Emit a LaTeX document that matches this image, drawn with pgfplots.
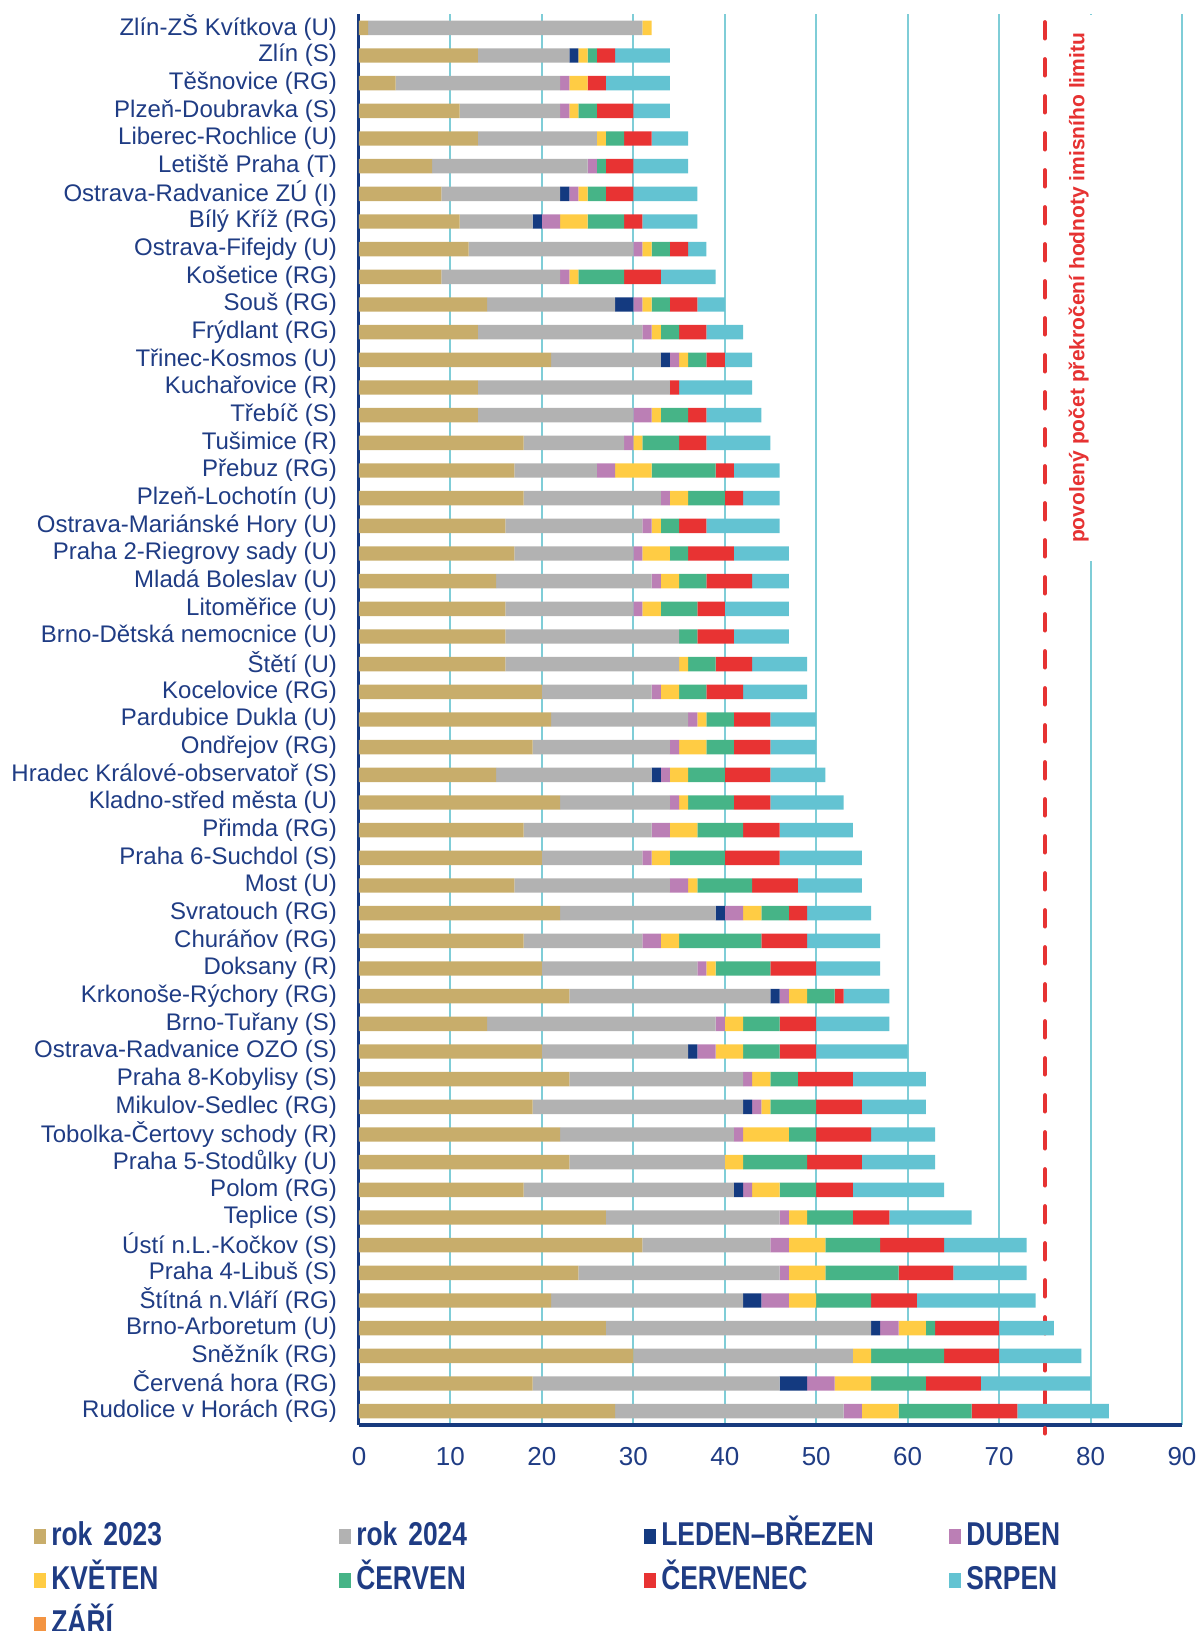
\documentclass[border=0pt]{standalone}
\usepackage{fontspec}
\setmainfont{Liberation Sans}
\newfontfamily\legfont[FakeStretch=0.8]{Liberation Sans}
\usepackage{pgfplots}
\usepackage{pgfplotstable}
\pgfplotsset{compat=1.18}

\definecolor{navy}{HTML}{1F3C84}
\definecolor{axisblue}{HTML}{173A7E}
\definecolor{gridc}{HTML}{7FCDD7}
\definecolor{c23}{HTML}{C8AD6B}
\definecolor{c24}{HTML}{B2B2B2}
\definecolor{clb}{HTML}{143A80}
\definecolor{cdu}{HTML}{BB7FB5}
\definecolor{ckv}{HTML}{FFCC44}
\definecolor{ccv}{HTML}{46B487}
\definecolor{ccc}{HTML}{E83333}
\definecolor{csr}{HTML}{63C3D2}
\definecolor{cza}{HTML}{F39442}
\definecolor{limred}{HTML}{E63232}

% idx: 0 = top row
\pgfplotstableread{
idx a  b  lb du kv cv cc sr za
0   1  30 0  0  1  0  0  0  0
1   13 10 1  0  1  1  2  6  0
2   4  18 0  1  2  0  2  7  0
3   11 11 0  1  1  2  4  4  0
4   13 13 0  0  1  2  3  4  0
5   8  17 0  1  0  1  3  6  0
6   9  13 1  1  1  2  3  7  0
7   11 8  1  2  3  4  2  6  0
8   12 18 0  1  1  2  2  2  0
9   9  13 0  1  1  5  4  6  0
10  14 14 2  1  1  2  3  3  0
11  13 18 0  1  1  2  3  4  0
12  21 12 1  1  1  2  2  3  0
13  13 21 0  0  0  0  1  8  0
14  13 17 0  2  1  3  2  6  0
15  18 11 0  1  1  4  3  7  0
16  17 9  0  2  4  7  2  5  0
17  18 15 0  1  2  4  2  4  0
18  16 15 0  1  1  2  3  8  0
19  17 13 0  1  3  2  5  6  0
20  15 17 0  1  2  3  5  4  0
21  16 14 0  1  2  4  3  7  0
22  16 19 0  0  0  2  4  6  0
23  16 19 0  0  1  3  4  6  0
24  20 12 0  1  2  3  4  7  0
25  21 15 0  1  1  3  4  5  0
26  19 15 0  1  3  3  4  5  0
27  15 17 1  1  2  4  5  6  0
28  22 12 0  1  1  5  4  8  0
29  18 14 0  2  3  5  4  8  0
30  20 11 0  1  2  6  6  9  0
31  17 17 0  2  1  6  5  7  0
32  22 17 1  2  2  3  2  7  0
33  18 13 0  2  2  9  5  8  0
34  20 17 0  1  1  6  5  7  0
35  23 22 1  1  2  3  1  5  0
36  14 25 0  1  2  4  4  8  0
37  20 16 1  2  3  4  4  10 0
38  23 19 0  1  2  3  6  8  0
39  19 23 1  1  1  5  5  7  0
40  22 19 0  1  5  3  6  7  0
41  23 17 0  0  2  7  6  8  0
42  18 23 1  1  3  4  4  10 0
43  27 19 0  1  2  5  4  9  0
44  31 14 0  2  4  6  7  9  0
45  24 22 0  1  4  8  6  8  0
46  21 21 2  3  3  6  5  13 0
47  27 29 1  2  3  1  7  6  0
48  30 24 0  0  2  8  6  9  0
49  19 27 3  3  4  6  6  12 0
50  28 25 0  2  4  8  5  10 0
}\stations

\begin{document}
\begin{tikzpicture}
\useasboundingbox (-179.5pt,-103pt) rectangle (421pt,712.5pt);
\begin{axis}[
  scale only axis,
  width=411.5pt, height=705.5pt,
  xbar stacked, bar width=7.2pt,
  xmin=0, xmax=90, xtick={0,10,...,90},
  ymin=-0.5, ymax=50.5, y dir=reverse,
  ytick={0,...,50},
  yticklabels={Zlín-ZŠ Kvítkova (U), Zlín (S), Těšnovice (RG), Plzeň-Doubravka (S),
    Liberec-Rochlice (U), Letiště Praha (T), Ostrava-Radvanice ZÚ (I), Bílý Kříž (RG),
    Ostrava-Fifejdy (U), Košetice (RG), Souš (RG), Frýdlant (RG), Třinec-Kosmos (U),
    Kuchařovice (R), Třebíč (S), Tušimice (R), Přebuz (RG), Plzeň-Lochotín (U),
    Ostrava-Mariánské Hory (U), Praha 2-Riegrovy sady (U), Mladá Boleslav (U),
    Litoměřice (U), Brno-Dětská nemocnice (U), Štětí (U), Kocelovice (RG),
    Pardubice Dukla (U), Ondřejov (RG), Hradec Králové-observatoř (S),
    Kladno-střed města (U), Přimda (RG), Praha 6-Suchdol (S), Most (U), Svratouch (RG),
    Churáňov (RG), Doksany (R), Krkonoše-Rýchory (RG), Brno-Tuřany (S),
    Ostrava-Radvanice OZO (S), Praha 8-Kobylisy (S), Mikulov-Sedlec (RG),
    Tobolka-Čertovy schody (R), Praha 5-Stodůlky (U), Polom (RG), Teplice  (S),
    Ústí n.L.-Kočkov (S), Praha 4-Libuš (S), Štítná n.Vláří (RG), Brno-Arboretum (U),
    Sněžník (RG), Červená hora (RG), Rudolice v Horách (RG)},
  yticklabel style={font=\fontsize{12}{14}\selectfont, text=navy, xshift=-7.5pt},
  xticklabel style={font=\fontsize{13}{15}\selectfont, text=navy, yshift=-7.5pt},
  /pgf/number format/assume math mode=true,
  major tick length=0pt,
  xmajorgrids, grid style={gridc, line width=1pt},
  axis x line*=bottom, axis y line*=left,
  axis line style={-},
  x axis line style={axisblue, line width=2pt},
  y axis line style={axisblue, line width=1.5pt},
  clip=false,
  legend columns=4,
  legend cell align=left,
  legend image code/.code={\fill[#1] (0pt,-3.8pt) rectangle (6pt,3.8pt);},
  legend style={
    at={(axis description cs:-0.395,-0.0665)}, anchor=north west,
    draw=none, fill=none, inner xsep=0pt, inner ysep=0pt,
    font=\legfont\bfseries\fontsize{16.5}{18}\selectfont, text=navy,
    nodes={inner sep=1pt, text width=138pt, text height=12pt, text depth=3pt},
    /tikz/every odd column/.append style={column sep=1.5pt},
    /tikz/every even column/.append style={column sep=5pt},
    row sep=5pt,
  },
]
\addplot[fill=c23, draw=none] table[x=a, y=idx] {\stations};
\addplot[fill=c24, draw=none] table[x=b, y=idx] {\stations};
\addplot[fill=clb, draw=none] table[x=lb, y=idx] {\stations};
\addplot[fill=cdu, draw=none] table[x=du, y=idx] {\stations};
\addplot[fill=ckv, draw=none] table[x=kv, y=idx] {\stations};
\addplot[fill=ccv, draw=none] table[x=cv, y=idx] {\stations};
\addplot[fill=ccc, draw=none] table[x=cc, y=idx] {\stations};
\addplot[fill=csr, draw=none] table[x=sr, y=idx] {\stations};
\addplot[fill=cza, draw=none] table[x=za, y=idx] {\stations};
\legend{rok 2023, rok 2024, LEDEN–BŘEZEN, DUBEN, KVĚTEN, ČERVEN, ČERVENEC, SRPEN, ZÁŘÍ}
\draw[limred, line width=2.2pt, line cap=round, dash pattern=on 8pt off 10.5pt]
  (axis cs:75,-0.2) -- (axis cs:75,50.8);
\node[rotate=90, fill=white, text=limred, inner xsep=9pt, inner ysep=2.5pt,
  font=\bfseries\fontsize{10.5}{12}\selectfont] at (axis cs:78.7,9.4)
  {povolený počet překročení hodnoty imisního limitu};
\end{axis}
\end{tikzpicture}
\end{document}
